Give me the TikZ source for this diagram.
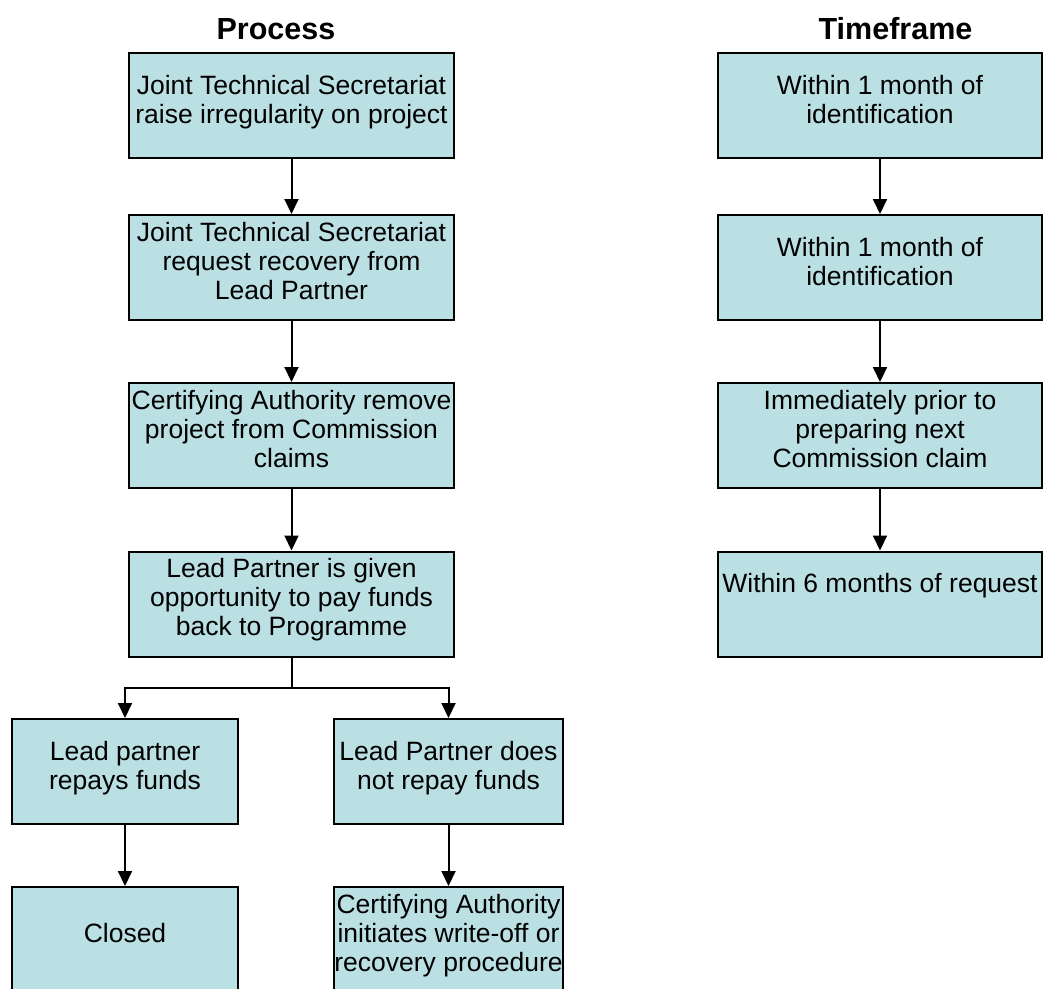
\documentclass[tikz,border=0pt]{standalone}
\usepackage{fontspec}
\setmainfont{Liberation Sans}
\usetikzlibrary{arrows.meta}
\definecolor{boxfill}{RGB}{187,224,228}
\begin{document}
\begin{tikzpicture}[x=1pt,y=-1pt,
  stepbox/.style={draw=black, fill=boxfill, line width=2pt, minimum height=105pt, inner sep=0pt},
  widebox/.style={stepbox, minimum width=325pt},
  smallbox/.style={stepbox, minimum width=228pt},
  boxtext/.style={anchor=north, align=center, inner sep=0pt, font=\fontsize{26.5}{29}\selectfont},
  heading/.style={anchor=base, inner sep=0pt, font=\fontsize{30.5}{34}\selectfont\bfseries},
  link/.style={line width=2pt},
  flow/.style={link, -{Triangle[length=15pt,width=14pt]}}]
\useasboundingbox (0,0) rectangle (1043,988);

% column headings
\node[heading] (hp) at (276,39) {Process};
\node[heading] (ht) at (895.5,39.5) {Timeframe};

% process column
\node[widebox] (p1) at (291.5,105.5) {};
\node[widebox] (p2) at (291.5,267.5) {};
\node[widebox] (p3) at (291.5,435.5) {};
\node[widebox] (p4) at (291.5,604) {};
\node[smallbox, minimum width=226pt] (p5) at (125,771.5) {};
\node[smallbox, minimum width=229pt] (p6) at (448.5,771.5) {};
\node[smallbox, minimum width=226pt] (p7) at (125,939.5) {};
\node[smallbox, minimum width=229pt] (p8) at (448.5,939.5) {};

\node[boxtext] (p1t) at ([yshift=-23pt]p1.north) {Joint Technical Secretariat\\raise irregularity on project};
\node[boxtext] (p2t) at ([yshift=-8pt]p2.north) {Joint Technical Secretariat\\request recovery from\\Lead Partner};
\node[boxtext] (p3t) at ([yshift=-8pt]p3.north) {Certifying Authority remove\\project from Commission\\claims};
\node[boxtext] (p4t) at ([yshift=-8pt]p4.north) {Lead Partner is given\\opportunity to pay funds\\back to Programme};
\node[boxtext] (p5t) at ([yshift=-23pt]p5.north) {Lead partner\\repays funds};
\node[boxtext] (p6t) at ([yshift=-23pt]p6.north) {Lead Partner does\\not repay funds};
\node[boxtext] (p7t) at ([yshift=-37pt]p7.north) {Closed};
\node[boxtext] (p8t) at ([yshift=-8pt]p8.north) {Certifying Authority\\initiates write-off or\\recovery procedure};

% timeframe column
\node[widebox, minimum width=324pt] (t1) at (880,105.5) {};
\node[widebox, minimum width=324pt] (t2) at (880,267.5) {};
\node[widebox, minimum width=324pt] (t3) at (880,435.5) {};
\node[widebox, minimum width=324pt] (t4) at (880,604) {};

\node[boxtext] (t1t) at ([yshift=-23pt]t1.north) {Within 1 month of\\identification};
\node[boxtext] (t2t) at ([yshift=-23pt]t2.north) {Within 1 month of\\identification};
\node[boxtext] (t3t) at ([yshift=-8pt]t3.north) {Immediately prior to\\preparing next\\Commission claim};
\node[boxtext] (t4t) at ([yshift=-23pt]t4.north) {Within 6 months of request};

% connectors
\draw[flow] (p1.south) -- (p2.north);
\draw[flow] (p2.south) -- (p3.north);
\draw[flow] (p3.south) -- (p4.north);
\coordinate (split) at (291.5,688);
\draw[link] (p4.south) -- (split);
\draw[flow] (split) -| (p5.north);
\draw[flow] (split) -| (p6.north);
\draw[flow] (p5.south) -- (p7.north);
\draw[flow] (p6.south) -- (p8.north);

\draw[flow] (t1.south) -- (t2.north);
\draw[flow] (t2.south) -- (t3.north);
\draw[flow] (t3.south) -- (t4.north);
\end{tikzpicture}
\end{document}
